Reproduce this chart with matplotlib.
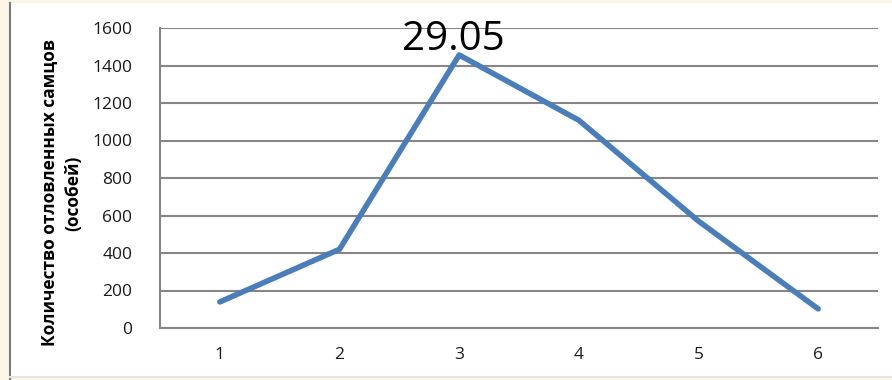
import matplotlib.pyplot as plt
from matplotlib.patches import Rectangle
from matplotlib.lines import Line2D

plt.rcParams['font.family'] = ['Open Sans', 'DejaVu Sans']

# данные
samples = [1, 2, 3, 4, 5, 6]
males = [139, 420, 1456, 1108, 570, 102]
peak_label = "29.05"
y_ticks = [0, 200, 400, 600, 800, 1000, 1200, 1400, 1600]

W, H = 892, 380
fig = plt.figure(figsize=(W / 100, H / 100), dpi=100)
fig.patch.set_facecolor('#fdf6e7')

# белое поле слайда
fig.add_artist(Rectangle((10 / W, 3 / H), (W - 10) / W, (H - 6) / H,
                         transform=fig.transFigure, facecolor='white',
                         edgecolor='none', zorder=0))
fig.add_artist(Line2D([9.5 / W, 9.5 / W], [0, (H - 3) / H], transform=fig.transFigure,
                      color='#7a7a7a', lw=1.5))
fig.add_artist(Line2D([10 / W, 1], [3.5 / H, 3.5 / H], transform=fig.transFigure,
                      color='#e4e4e4', lw=1.5))

ax = fig.add_axes([160 / W, (H - 328) / H, (878 - 160) / W, 300 / H])
ax.set_facecolor('none')
ax.plot(samples, males, color='#4a7ebb', lw=4, solid_capstyle='round', zorder=3)

ax.set_xlim(0.5, 6.5)
ax.set_ylim(0, 1600)
ax.set_yticks(y_ticks)
ax.set_xticks(samples)
ax.yaxis.grid(True, color='#868686', lw=1.5)
ax.set_axisbelow(True)
for s in ['top', 'right']:
    ax.spines[s].set_visible(False)
for s in ['left', 'bottom']:
    ax.spines[s].set_color('#868686')
    ax.spines[s].set_linewidth(1.5)
ax.tick_params(length=0, labelsize=12.5, colors='#1a1a1a')
ax.tick_params(axis='y', pad=20)
ax.tick_params(axis='x', pad=14)

ax.set_ylabel("Количество отловленных самцов\n(особей)", fontsize=12.5,
              fontweight='bold', linespacing=1.4)
ax.yaxis.set_label_coords(-0.108, 0.45)

ax.text(samples[2] - 0.05, 1540, peak_label, fontsize=29, ha='center', va='center',
        color='black')

fig.savefig('out.png', dpi=100, facecolor=fig.get_facecolor())
